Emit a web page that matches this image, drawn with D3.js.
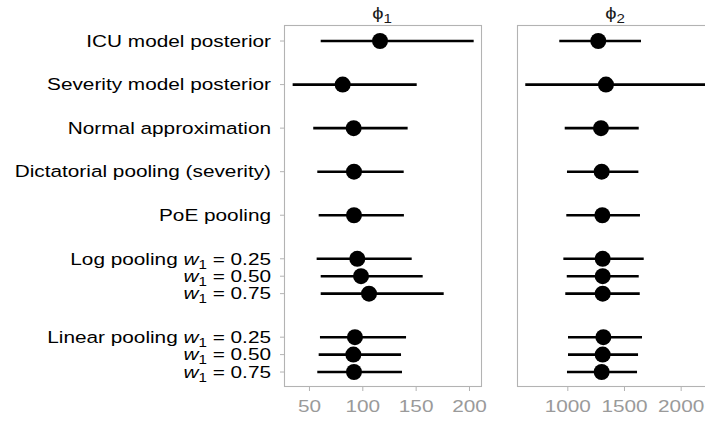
<!DOCTYPE html>
<html>
<head>
<meta charset="utf-8">
<script src="https://cdn.jsdelivr.net/npm/d3@7"></script>
<style>
  body { margin: 0; background: #fff; }
  svg { font-family: 'Liberation Sans', Arial, sans-serif; }
</style>
</head>
<body>
<svg id="chart" width="705" height="422"></svg>
<script>
// rows, top to bottom
var methods = ['ICU model posterior', 'Severity model posterior', 'Normal approximation',
  'Dictatorial pooling (severity)', 'PoE pooling', 'Log pooling', '', '', 'Linear pooling', '', ''];
var weights = [null, null, null, null, null, '0.25', '0.50', '0.75', '0.25', '0.50', '0.75'];
var rowPos = [0, 2.5, 5, 7.5, 10, 12.5, 13.5, 14.5, 17, 18, 19];

// phi_1 : point, lower, upper
var phi1Mid = [116.6, 81.6, 91.9, 92.2, 92.2, 95.3, 98.8, 106.3, 93.1, 91.6, 92.2];
var phi1Low = [61, 34.7, 54, 57.8, 59.1, 57.2, 61, 61, 60.3, 59.1, 57.8];
var phi1High = [204.4, 151, 142.5, 138.8, 139, 146.3, 156.6, 176.3, 141, 136.3, 137.2];

// phi_2 : point, lower, upper
var phi2Mid = [1273, 1341, 1297, 1303, 1309, 1312, 1312, 1312, 1318, 1312, 1303];
var phi2Low = [929, 629, 977, 997, 991, 965, 995, 982, 1006, 1006, 997];
var phi2High = [1650, 2400, 1630, 1627, 1641, 1674, 1630, 1639, 1659, 1624, 1615];

var phi1Ticks = [50, 100, 150, 200];
var phi2Ticks = [1000, 1500, 2000];

var svg = d3.select('#chart');
var plotTop = 25, plotBottom = 387;
var stretch = 'scale(1.26,1)';   // text in the picture is drawn wide

var yScale = d3.scaleLinear().domain([-0.92, 19.86]).range([plotTop, plotBottom]);

var panels = [
  { name: '1', left: 284, right: 482, domain: [26.6, 212.2], ticks: phi1Ticks, mid: phi1Mid, low: phi1Low, high: phi1High },
  { name: '2', left: 517, right: 715, domain: [556, 2303], ticks: phi2Ticks, mid: phi2Mid, low: phi2Low, high: phi2High }
];

var gray = '#b3b3b3';

panels.forEach(function (p, pi) {
  var x = d3.scaleLinear().domain(p.domain).range([p.left, p.right]);
  var g = svg.append('g');

  svg.append('defs').append('clipPath').attr('id', 'clip' + pi)
    .append('rect').attr('x', p.left).attr('y', plotTop).attr('width', p.right - p.left).attr('height', plotBottom - plotTop);

  var marks = g.append('g').attr('clip-path', 'url(#clip' + pi + ')');

  marks.selectAll('line.ci')
    .data(rowPos)
    .enter()
    .append('line')
    .attr('x1', function (d, i) { return x(p.low[i]); })
    .attr('x2', function (d, i) { return x(p.high[i]); })
    .attr('y1', function (d) { return yScale(d); })
    .attr('y2', function (d) { return yScale(d); })
    .style('stroke', '#000')
    .style('stroke-width', 2.6);

  marks.selectAll('circle')
    .data(rowPos)
    .enter()
    .append('circle')
    .attr('cx', function (d, i) { return x(p.mid[i]); })
    .attr('cy', function (d) { return yScale(d); })
    .attr('r', 8)
    .style('fill', '#000');

  g.append('rect')
    .attr('x', p.left + 0.5).attr('y', plotTop + 0.5)
    .attr('width', p.right - p.left - 1).attr('height', plotBottom - plotTop - 1)
    .style('fill', 'none').style('stroke', gray).style('stroke-width', 1.1);

  var xAxis = d3.axisBottom(x).tickValues(p.ticks).tickSize(4).tickPadding(9).tickFormat(d3.format('d'));
  var ax = g.append('g').attr('transform', 'translate(0,' + plotBottom + ')').call(xAxis);
  ax.select('.domain').remove();
  ax.selectAll('line').style('stroke', gray);
  ax.selectAll('text').style('fill', '#9a9a9a').style('font-size', '16.5px')
    .style('font-family', "'Liberation Sans', Arial, sans-serif")
    .attr('transform', stretch);

  var strip = g.append('text')
    .attr('transform', 'translate(' + ((p.left + p.right) / 2 - 1) + ',19) ' + stretch)
    .attr('text-anchor', 'middle')
    .style('font-size', '16px')
    .style('fill', '#1a1a1a');
  strip.append('tspan').text('\u03d5');
  strip.append('tspan').attr('dy', 4).style('font-size', '12px').text(p.name);
});

// y axis ticks and labels
var ya = svg.append('g');
ya.selectAll('line')
  .data(rowPos)
  .enter()
  .append('line')
  .attr('x1', 280).attr('x2', 284)
  .attr('y1', function (d) { return yScale(d); })
  .attr('y2', function (d) { return yScale(d); })
  .style('stroke', gray);

rowPos.forEach(function (d, i) {
  var t = ya.append('text')
    .attr('transform', 'translate(271,' + yScale(d) + ') ' + stretch)
    .attr('dy', '0.35em')
    .attr('text-anchor', 'end')
    .style('font-size', '16.5px')
    .style('fill', '#000');
  if (weights[i] === null) {
    t.text(methods[i]);
  } else {
    if (methods[i]) t.append('tspan').text(methods[i] + ' ');
    t.append('tspan').style('font-style', 'italic').text('w');
    t.append('tspan').attr('dy', 4).style('font-size', '12px').text('1');
    t.append('tspan').attr('dy', -4).text(' = ' + weights[i]);
  }
});
</script>
</body>
</html>
